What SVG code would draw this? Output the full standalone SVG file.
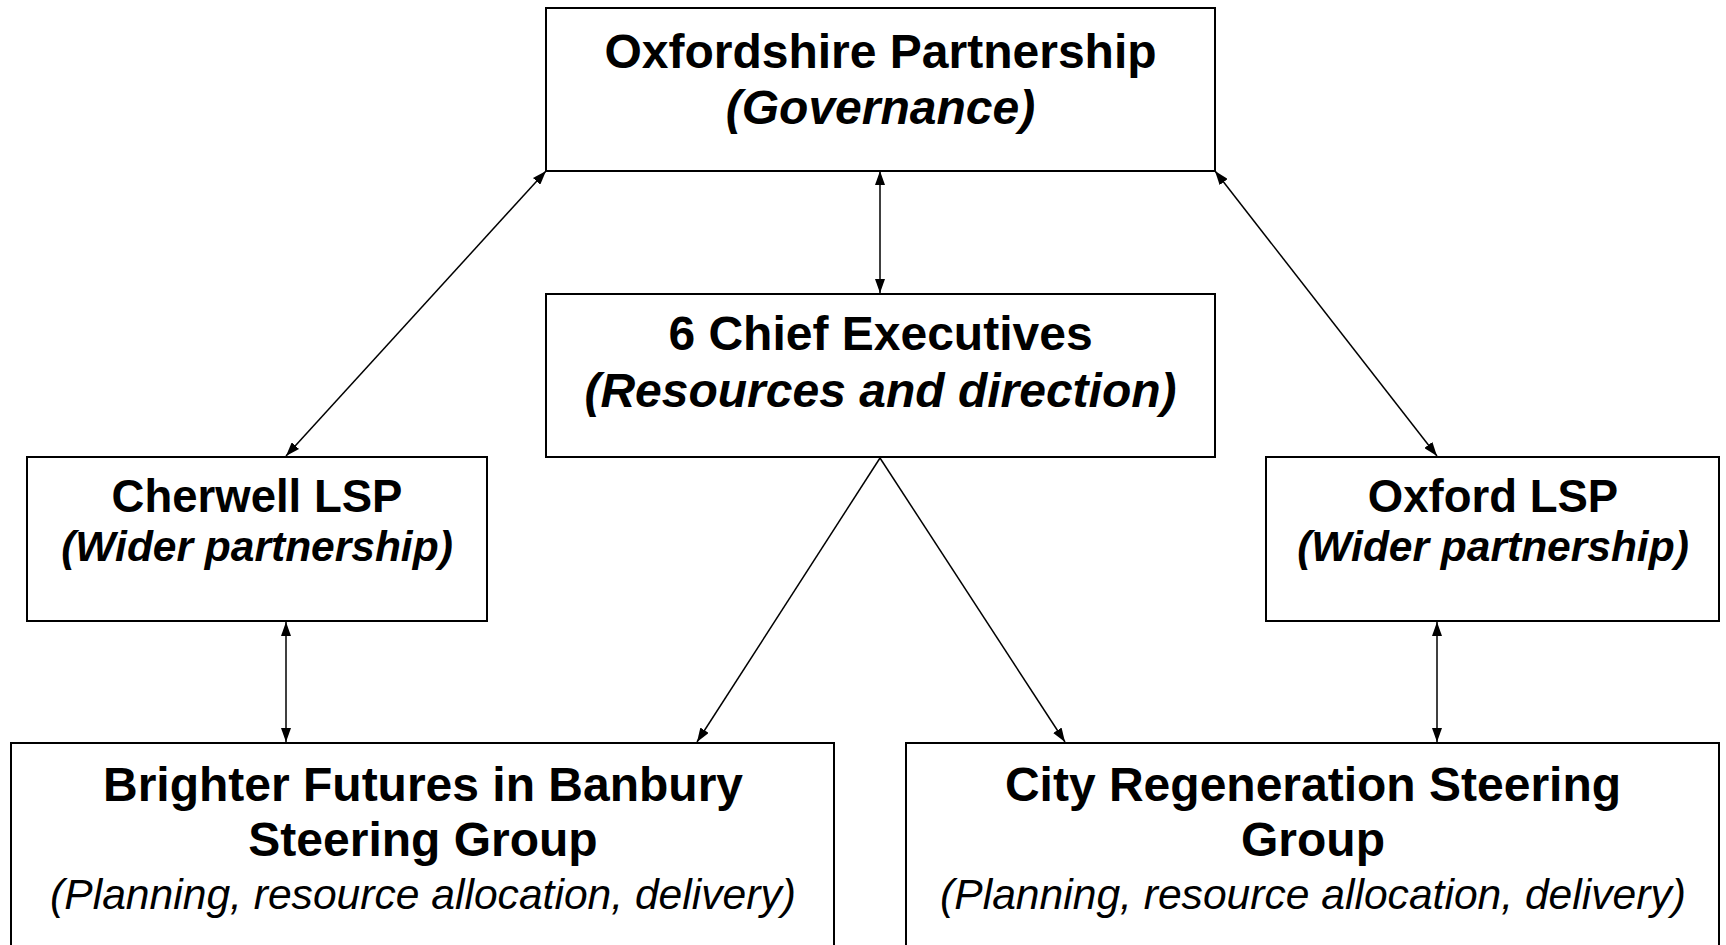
<svg xmlns="http://www.w3.org/2000/svg" width="1726" height="945" viewBox="0 0 1726 945">
<style>
.box{fill:#fff;stroke:#000;stroke-width:2}
.t{font-family:"Liberation Sans",Arial,sans-serif;text-anchor:middle;fill:#000}
.b{font-weight:bold;font-size:48px}
.bi{font-weight:bold;font-style:italic;font-size:48px}
.s{font-weight:bold;font-size:45.5px}
.si{font-weight:bold;font-style:italic;font-size:42.5px}
.i{font-style:italic;font-size:42.6px}
.c{stroke:#000;stroke-width:1.5;fill:none}
</style>
<defs>
<marker id="ah" viewBox="0 0 14 10" refX="14" refY="5" markerWidth="14" markerHeight="10" markerUnits="userSpaceOnUse" orient="auto-start-reverse">
<path d="M0,0 L14,5 L0,10 Z" fill="#000"/>
</marker>
</defs>
<rect width="1726" height="945" fill="#fff"/>
<g id="connectors">
<line class="c" x1="546" y1="171" x2="286" y2="456" marker-start="url(#ah)" marker-end="url(#ah)"/>
<line class="c" x1="880" y1="171" x2="880" y2="293" marker-start="url(#ah)" marker-end="url(#ah)"/>
<line class="c" x1="1215" y1="171" x2="1437" y2="456" marker-start="url(#ah)" marker-end="url(#ah)"/>
<line class="c" x1="286" y1="622" x2="286" y2="742" marker-start="url(#ah)" marker-end="url(#ah)"/>
<line class="c" x1="1437" y1="622" x2="1437" y2="742" marker-start="url(#ah)" marker-end="url(#ah)"/>
<line class="c" x1="880" y1="458" x2="697" y2="742" marker-end="url(#ah)"/>
<line class="c" x1="880" y1="458" x2="1065" y2="742" marker-end="url(#ah)"/>
</g>
<g id="oxfordshire">
<rect class="box" x="546" y="8" width="669" height="163"/>
<text class="t b" x="880.5" y="68">Oxfordshire Partnership</text>
<text class="t bi" x="880.5" y="124">(Governance)</text>
</g>
<g id="chief">
<rect class="box" x="546" y="294" width="669" height="163"/>
<text class="t b" x="880.5" y="350">6 Chief Executives</text>
<text class="t bi" x="880.5" y="407">(Resources and direction)</text>
</g>
<g id="cherwell">
<rect class="box" x="27" y="457" width="460" height="164"/>
<text class="t s" x="257" y="512">Cherwell LSP</text>
<text class="t si" x="257" y="561">(Wider partnership)</text>
</g>
<g id="oxford">
<rect class="box" x="1266" y="457" width="453" height="164"/>
<text class="t s" x="1493" y="512">Oxford LSP</text>
<text class="t si" x="1493" y="561">(Wider partnership)</text>
</g>
<g id="brighter">
<rect class="box" x="11" y="743" width="823" height="220"/>
<text class="t b" x="423" y="801">Brighter Futures in Banbury</text>
<text class="t b" x="423" y="856">Steering Group</text>
<text class="t i" x="423" y="909">(Planning, resource allocation, delivery)</text>
</g>
<g id="city">
<rect class="box" x="906" y="743" width="813" height="220"/>
<text class="t b" x="1313" y="801">City Regeneration Steering</text>
<text class="t b" x="1313" y="856">Group</text>
<text class="t i" x="1313" y="909">(Planning, resource allocation, delivery)</text>
</g>
</svg>
